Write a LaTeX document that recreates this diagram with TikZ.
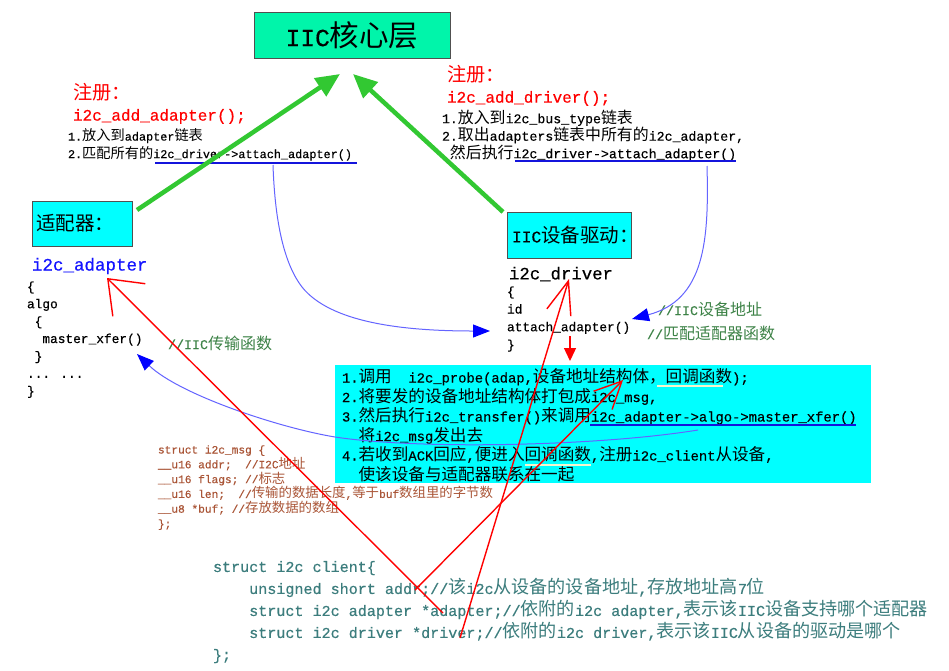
\documentclass[tikz,border=0pt]{standalone}
\usepackage{fontspec}
\setmainfont{Liberation Mono}[Scale=0.8333, FakeBold=0.4]
\newfontfamily\cjk{Noto Sans CJK SC}
\usetikzlibrary{arrows.meta, calc, positioning}

% Chinese characters are set in the CJK family, the rest in the mono font
\XeTeXinterchartokenstate=1
\ifdefined\newXeTeXintercharclass
  \newXeTeXintercharclass\cjkcls
\else
  \chardef\cjkcls=7
\fi
\newcount\cjkcnt
\newcommand\setcjkrange[2]{%
  \cjkcnt=#1\relax
  \loop
    \XeTeXcharclass\cjkcnt=\cjkcls
  \ifnum\cjkcnt<#2\relax
    \advance\cjkcnt by 1
  \repeat}
\setcjkrange{"3000}{"303F}
\setcjkrange{"4E00}{"9FFF}
\setcjkrange{"FF00}{"FFEF}
\XeTeXinterchartoks 0 \cjkcls = {\cjk}
\XeTeXinterchartoks 4095 \cjkcls = {\cjk}
\XeTeXinterchartoks \cjkcls 0 = {\rmfamily}
\XeTeXinterchartoks \cjkcls 4095 = {\rmfamily}

\definecolor{coregreen}{RGB}{0,245,170}
\definecolor{boxcyan}{RGB}{0,255,255}
\definecolor{arrowgreen}{RGB}{50,200,50}
\definecolor{cmtgreen}{RGB}{60,130,70}
\definecolor{msgbrown}{RGB}{170,85,55}
\definecolor{clientteal}{RGB}{60,125,125}
\definecolor{nameblue}{RGB}{20,20,255}
\definecolor{curveblue}{RGB}{100,100,255}
\definecolor{lineblue}{RGB}{20,20,220}
\definecolor{paleline}{RGB}{245,245,205}
\definecolor{edgegray}{RGB}{80,80,80}

\begin{document}
\begin{tikzpicture}[
    x=1pt, y=-1pt,
    every node/.style={inner sep=0pt, outer sep=0pt},
    core box/.style={draw=edgegray, fill=coregreen, minimum width=196pt, minimum height=46pt, font=\fontsize{29.5}{32}\selectfont},
    layer box/.style={draw=edgegray, fill=boxcyan, anchor=north west},
    box label/.style={anchor=west, font=\fontsize{19.5}{22}\selectfont},
    reg text/.style={anchor=north west, align=left, text=red, font=\fontsize{19.2}{21}\selectfont},
    note text/.style={anchor=north west, align=left},
    struct name/.style={anchor=west},
    cmt text/.style={anchor=west, text=cmtgreen, font=\fontsize{16}{18}\selectfont},
    under line/.style={draw=lineblue, line width=2pt},
    pale line/.style={draw=paleline, line width=1.5pt},
    green arrow/.style={draw=arrowgreen, line width=4.5pt, -{Triangle[length=24pt, width=21pt]}},
    blue curve/.style={draw=curveblue, line width=1pt, -{Triangle[length=17pt, width=13pt, color=blue]}},
    red ptr/.style={draw=red, line width=1.4pt}
]
\useasboundingbox (0,0) rectangle (949,670);
\fill[white] (0,0) rectangle (949,670);

% core layer
\node[core box] (core) at (352,35) {IIC核心层};

% adapter registration
\node[reg text] (adapreg) at (73,83.4) {注册：\\i2c\_add\_adapter();};
\node[note text, font=\fontsize{14.2}{17.5}\selectfont] (adapnote) at (68,128.6) {1.放入到adapter链表\\2.匹配所有的i2c\_driver->attach\_adapter()};

% driver registration
\node[reg text] (drvreg) at (447,65.4) {注册：\\i2c\_add\_driver();};
\node[note text, font=\fontsize{15.9}{17.5}\selectfont] (drvnote) at (442,109.8) {1.放入到i2c\_bus\_type链表\\2.取出adapters链表中所有的i2c\_adapter,\\~然后执行i2c\_driver->attach\_adapter()};

% adapter and driver boxes
\node[layer box, minimum width=100pt, minimum height=45pt] (adapbox) at (32,201) {};
\node[box label] (adaplabel) at ([xshift=4pt]adapbox.west) {适配器：};
\node[layer box, minimum width=124pt, minimum height=46pt] (drvbox) at (507,212) {};
\node[box label] (drvlabel) at ([xshift=5pt]drvbox.west) {IIC设备驱动：};

% i2c_adapter
\node[struct name, text=nameblue, font=\fontsize{21}{24}\selectfont] (adapname) at (32,266) {i2c\_adapter};
\node[note text, font=\fontsize{15.4}{17.4}\selectfont] (adapcode) at (27,281.5) {\{\\algo\\~\{\\~~master\_xfer()\\~\}\\... ...\\\}};
\node[cmt text] (adapcmt) at (168,343) {//IIC传输函数};

% i2c_driver
\node[struct name, font=\fontsize{20.8}{24}\selectfont] (drvname) at (509,274) {i2c\_driver};
\node[note text, font=\fontsize{15.4}{17.7}\selectfont] (drvcode) at (507,286.5) {\{\\id\\attach\_adapter()\\\}};
\node[cmt text] (idcmt) at (658,309) {//IIC设备地址};
\node[cmt text] (attcmt) at (647,333) {//匹配适配器函数};

% probe steps
\node[fill=boxcyan, minimum width=536pt, minimum height=118pt, anchor=north west] (probebox) at (335,365) {};
\node[note text, font=\fontsize{16.6}{19.5}\selectfont] (probetext) at (342,368.5) {1.调用~~i2c\_probe(adap,设备地址结构体，回调函数);\\2.将要发的设备地址结构体打包成i2c\_msg,\\3.然后执行i2c\_transfer()来调用i2c\_adapter->algo->master\_xfer()\\~~将i2c\_msg发出去\\4.若收到ACK回应,便进入回调函数,注册i2c\_client从设备,\\~~使该设备与适配器联系在一起};

% i2c_msg
\node[note text, text=msgbrown, font=\fontsize{13.4}{14.8}\selectfont] (msgcode) at (158,445.4) {struct i2c\_msg \{\\\_\_u16 addr;~~//I2C地址\\\_\_u16 flags; //标志\\\_\_u16 len;~~//传输的数据长度,等于buf数组里的字节数\\\_\_u8 *buf; //存放数据的数组\\\};};

% i2c_client
\node[note text, text=clientteal, font=\fontsize{18.1}{22}\selectfont] (clientcode) at (213,561) {struct i2c client\{\\~~~~unsigned short addr;//该i2c从设备的设备地址,存放地址高7位\\~~~~struct i2c adapter *adapter;//依附的i2c adapter,表示该IIC设备支持哪个适配器\\~~~~struct i2c driver *driver;//依附的i2c driver,表示该IIC从设备的驱动是哪个\\\};};

% underlines
\coordinate (adapul1) at (155,163);
\coordinate (adapul2) at (357,163);
\coordinate (drvul1) at (515,161);
\coordinate (drvul2) at (736,161);
\coordinate (xferul1) at (590,425);
\coordinate (xferul2) at (856,425);
\draw[under line] (adapul1) -- (adapul2);
\draw[under line] (drvul1) -- (drvul2);
\draw[under line] (xferul1) -- (xferul2);
\coordinate (cbul1) at (657,386);
\coordinate (cbul2) at (723,386);
\coordinate (cbul3) at (525,465);
\coordinate (cbul4) at (591,465);
\draw[pale line] (cbul1) -- (cbul2);
\draw[pale line] (cbul3) -- (cbul4);

% registration to core
\draw[green arrow] ([shift={(5,9)}]adapbox.north east) -- ([shift={(-12,16)}]core.south);
\draw[green arrow] ([shift={(-4,0)}]drvbox.north west) -- ([shift={(1,16)}]core.south);

% calls
\coordinate (adapfrom) at (273,165);
\coordinate (attachin) at (490,331);
\draw[blue curve] (adapfrom) .. controls (275,225) and (285,265) .. (302,287) .. controls (330,322) and (400,331) .. (attachin);
\coordinate (drvfrom) at (707,166);
\coordinate (attachout) at (632,319);
\draw[blue curve] (drvfrom) .. controls (709,240) and (705,300) .. (attachout);
\coordinate (xferfrom) at (698,430);
\coordinate (xferin) at (137,354);
\draw[blue curve] (xferfrom) .. controls (600,446) and (420,450) .. (335,437) .. controls (280,428) and (180,395) .. (xferin);

% client members
\coordinate (addrpt) at (415,590);
\coordinate (probetip) at (623,380);
\draw[red ptr, -{Straight Barb[length=27pt, width=26pt]}] (addrpt) -- (probetip);
\coordinate (adappt) at (443,613);
\coordinate (adaptip) at (107,278);
\draw[red ptr, -{Straight Barb[length=30pt, width=46pt]}] (adappt) -- (adaptip);
\coordinate (drvpt) at (460,638);
\coordinate (drvtip) at (569,279);
\draw[red ptr, -{Straight Barb[length=33pt, width=25pt]}] (drvpt) -- (drvtip);
\coordinate (attachdn) at (570,336);
\coordinate (probein) at (570,361);
\draw[red ptr, -{Triangle[length=13pt, width=12pt]}] (attachdn) -- (probein);
\end{tikzpicture}
\end{document}
